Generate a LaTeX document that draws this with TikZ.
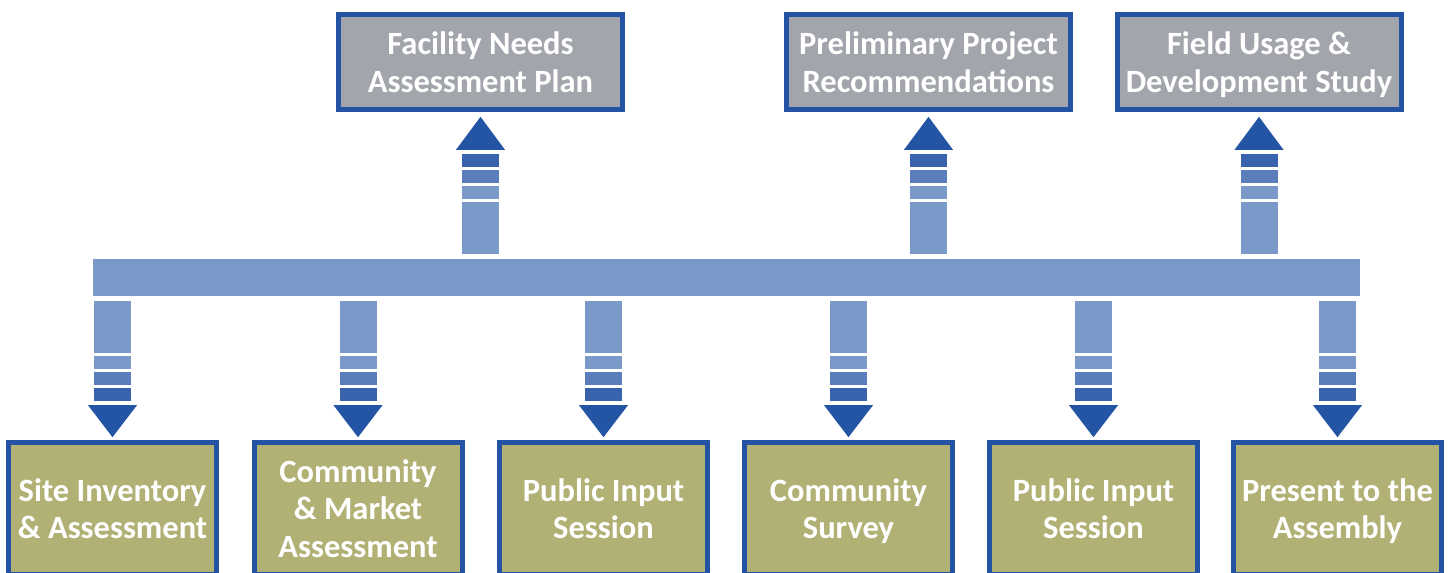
\documentclass[tikz,border=0pt]{standalone}
\usepackage{fontspec}
\setmainfont{Carlito}
\usepackage{tikz}
\definecolor{frameblue}{HTML}{2453A3}
\definecolor{tipblue}{HTML}{2454A4}
\definecolor{bardark}{HTML}{3A63AD}
\definecolor{barmid}{HTML}{5A7DBB}
\definecolor{barlight}{HTML}{7A99C8}
\definecolor{plangray}{HTML}{A3A5AC}
\definecolor{stepolive}{HTML}{B2B175}
\tikzset{%
  box/.style      = {shape=rectangle, draw=frameblue, line width=5pt,%
                     align=center, text=white, inner sep=0pt, text depth=0pt,%
                     font=\fontsize{32.5}{37.5}\selectfont\bfseries},%
  planbox/.style  = {box, fill=plangray, minimum width=284pt, minimum height=95pt},%
  stepbox/.style  = {box, fill=stepolive, minimum width=208pt, minimum height=132pt},%
  band/.style     = {shape=rectangle, fill=barlight, inner sep=0pt,%
                     minimum width=1267pt, minimum height=37pt}%
}

\begin{document}
\begin{tikzpicture}[x=1pt, y=-1pt]%
	\clip (0,0) rectangle (1449,573);%
	% plans on top
	\node [planbox] (needs) at (480.5,62) {Facility Needs\\Assessment Plan};%
	\node [planbox] (prelim) at (928.5,62) {Preliminary Project\\Recommendations};%
	\node [planbox] (field) at (1259,62) {Field Usage \&\\Development Study};%
	% the band
	\node [band] (band) at (726.5,277.5) {};%
	% steps below
	\node [stepbox] (site) at (112.5,508.5) {Site Inventory\\\& Assessment};%
	\node [stepbox] (market) at (358,508.5) {Community\\\& Market\\Assessment};%
	\node [stepbox] (input1) at (603.5,508.5) {Public Input\\Session};%
	\node [stepbox] (survey) at (848.5,508.5) {Community\\Survey};%
	\node [stepbox] (input2) at (1093.5,508.5) {Public Input\\Session};%
	\node [stepbox] (assembly) at (1337.5,508.5) {Present to the\\Assembly};%
	% striped arrows, up
	\foreach \p in {needs,prelim,field}{%
		\begin{scope}[shift={(band.north -| \p.south)}]%
			\fill [barlight] (-18.5,-5) rectangle (18.5,-57);%
			\fill [barlight] (-18.5,-60) rectangle (18.5,-73);%
			\fill [barmid] (-18.5,-76) rectangle (18.5,-89);%
			\fill [bardark] (-18.5,-92) rectangle (18.5,-105);%
			\fill [tipblue] (-24.5,-109) -- (24.5,-109) -- (0,-142) -- cycle;%
		\end{scope}}%
	% striped arrows, down
	\foreach \s in {site,market,input1,survey,input2,assembly}{%
		\begin{scope}[shift={(band.south -| \s.north)}]%
			\fill [barlight] (-18.5,5) rectangle (18.5,57);%
			\fill [barlight] (-18.5,60) rectangle (18.5,73);%
			\fill [barmid] (-18.5,76) rectangle (18.5,89);%
			\fill [bardark] (-18.5,92) rectangle (18.5,105);%
			\fill [tipblue] (-24.5,109) -- (24.5,109) -- (0,141) -- cycle;%
		\end{scope}}%
\end{tikzpicture}
\end{document}
